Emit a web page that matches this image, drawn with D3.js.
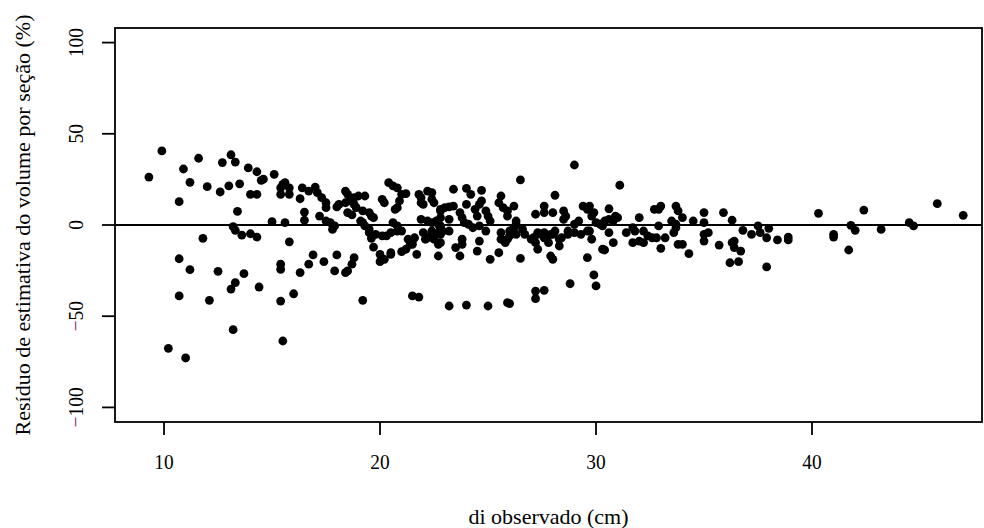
<!DOCTYPE html>
<html>
<head>
<meta charset="utf-8">
<script src="https://cdn.jsdelivr.net/npm/d3@7"></script>
<style>
  html, body { margin: 0; padding: 0; background: #fff; }
  svg text { font-family: "Liberation Serif", "DejaVu Serif", serif; fill: #000; }
</style>
</head>
<body>
<div id="chart"></div>
<script>
// diâmetro observado (cm) e resíduo (%)
const di = [
  9.3, 9.9, 11.6, 10.9, 11.2, 10.7, 12.0, 12.7, 13.1, 13.3, 12.6, 13.0, 13.5, 13.9, 14.3, 14.5,
  14.6, 15.1, 14.0, 14.3, 15.4, 15.4, 15.5, 13.4, 15.0, 15.6, 13.2, 13.3, 13.6, 14.0, 14.3, 11.8,
  10.7, 11.2, 12.5, 13.7, 13.3, 13.1, 14.4, 10.7, 12.1, 15.4, 15.4, 15.4, 13.2, 10.2, 11.0, 15.5,
  15.6, 15.8, 15.8, 16.3, 16.4, 16.7, 17.0, 17.1, 17.3, 17.5, 17.5, 16.5, 16.5, 15.8, 17.2, 17.5,
  17.7, 17.9, 17.8, 18.0, 18.1, 18.4, 18.5, 18.4, 18.6, 18.8, 19.0, 19.3, 18.5, 18.7, 18.8, 18.9,
  19.1, 19.2, 19.3, 19.5, 19.5, 19.6, 19.7, 19.2, 19.5, 19.6, 19.7, 20.1, 20.2, 20.4, 20.6, 20.8,
  21.0, 21.2, 20.9, 20.8, 20.7, 20.6, 20.8, 20.8, 21.0, 20.5, 20.3, 20.1, 19.8, 21.3, 21.5, 21.6,
  21.5, 21.8, 21.9, 21.9, 22.0, 22.2, 22.4, 22.4, 22.5, 21.9, 22.2, 22.4, 22.6, 22.8, 22.8, 22.7,
  22.8, 22.4, 22.2, 22.5, 22.8, 22.9,
  16.3, 16.7, 16.9, 17.4, 18.0, 17.9, 18.4, 18.5, 18.7, 18.8, 16.0, 19.2, 20.0, 20.2, 20.0, 20.5,
  20.5, 21.0, 21.2, 21.4, 21.7, 22.7, 22.8, 22.1, 22.0, 22.4, 22.7, 21.5, 21.8,
  29.0, 26.5, 23.4, 24.0, 24.2, 24.7, 22.8, 23.0, 23.2, 23.4, 23.2, 22.8, 23.2, 23.7, 23.8, 24.0,
  23.9, 24.1, 24.4, 24.6, 24.7, 24.5, 24.6, 24.3, 24.9, 25.0, 25.1, 24.9, 25.5, 25.6, 25.7, 25.9,
  26.2, 25.9, 26.3, 26.2, 26.0, 26.6, 26.7, 25.9, 25.8, 27.2, 27.6, 27.6, 28.1, 28.0, 28.1, 27.9,
  27.6, 27.3, 27.1, 27.2, 28.5, 28.6, 28.5, 28.3, 28.7, 29.0, 29.2, 29.4, 29.6, 29.7, 29.9, 29.8,
  29.6, 29.8, 30.0, 30.3,
  22.7, 22.8, 23.5, 23.7, 23.8, 23.8, 24.5, 24.6, 25.1, 25.5, 25.6, 25.6, 26.0, 26.3, 26.3, 26.5,
  27.0, 27.3, 27.3, 27.6, 27.8, 27.9, 28.0, 27.7, 28.0, 28.3, 28.4, 28.7, 29.0, 29.3, 29.6, 29.7,
  30.3, 29.9, 30.0, 28.8, 27.2, 27.6, 27.2, 25.9, 26.0, 23.2, 24.0, 25.0,
  31.1, 30.6, 30.2, 30.4, 30.6, 30.8, 30.9, 31.0, 30.6, 30.8, 30.4, 31.4, 31.7, 31.8, 32.0, 32.2,
  31.7, 32.0, 32.2, 32.4, 32.6, 32.8, 32.9, 32.9, 33.0, 32.7, 33.2, 33.0, 33.5, 33.7, 33.8, 34.0,
  33.7, 33.6, 33.7, 33.8, 34.0, 34.3, 34.5, 35.0, 35.0, 35.0, 35.2, 35.0, 35.7, 35.9, 36.3, 36.3,
  36.4, 36.4, 36.7, 36.2, 36.6, 36.8, 37.2, 37.5, 37.6, 38.0, 37.9, 37.9, 38.4, 38.9, 38.9,
  40.3, 41.0, 41.0, 41.7, 41.8, 42.0, 42.4, 43.2, 44.5, 44.7, 45.8, 47.0
];
const residuo = [
  26.3, 40.6, 36.6, 30.7, 23.4, 12.8, 21.0, 34.2, 38.5, 34.5, 18.1, 21.5, 22.6, 31.3, 29.2, 24.5,
  25.1, 27.8, 16.8, 16.8, 20.4, 16.8, 22.3, 7.5, 1.8, 1.3, -0.9, -2.9, -5.5, -4.8, -6.6, -7.3,
  -18.5, -24.5, -25.4, -26.7, -31.6, -35.1, -34.0, -38.9, -41.3, -41.7, -21.5, -24.3, -57.4, -67.6, -72.9, -63.6,
  23.2, 16.8, 20.4, 14.4, 20.4, 18.6, 20.8, 17.7, 15.0, 12.2, 9.5, 7.1, 2.6, -9.2, 4.9, 2.2,
  1.3, -0.5, -2.4, 9.9, 11.3, 18.6, 16.8, 12.2, 13.2, 15.0, 15.9, 15.9, 6.8, 5.5, 11.3, 9.5,
  2.2, 1.3, -0.5, -2.4, -4.2, -7.3, -12.1, 7.7, 6.8, 4.9, 4.0, 14.1, 12.2, 23.2, 21.4, 20.4,
  16.8, 17.2, 13.2, 9.5, 8.6, 1.3, -0.5, -3.3, -3.3, -4.2, -6.0, -6.0, -5.1, -7.8, -8.8, -7.0,
  -10.6, 16.8, 15.0, 12.2, 11.3, 18.6, 17.7, 14.1, 12.2, 3.1, 2.2, 1.3, 2.2, 4.0, 7.7, 0.4,
  -1.5, -3.3, -7.0, -7.8, -5.1, -3.3,
  -26.1, -21.5, -16.4, -20.1, -16.4, -25.2, -26.1, -25.2, -21.5, -17.9, -37.7, -41.3, -16.1, -18.8, -20.1, -15.2,
  -16.1, -14.6, -13.3, -10.6, -16.1, -17.0, -9.7, -7.8, -4.2, -4.2, -4.8, -38.9, -39.5,
  32.9, 24.7, 19.6, 20.1, 16.8, 19.0, 8.6, 9.5, 9.9, 10.4, 3.1, -2.4, -3.3, 6.8, 4.0, 11.3,
  1.3, 0.4, 8.6, 11.3, 13.2, 4.9, -0.5, -1.5, 7.7, 4.9, 2.2, -3.3, 12.2, 15.9, 9.5, 7.7,
  10.4, 4.9, 2.2, -1.5, -3.3, -2.4, -5.1, -7.8, -9.7, 5.9, 10.4, 6.8, 16.3, 6.8, -3.3, -5.1,
  -7.0, -4.2, -7.0, -9.7, 7.7, 4.9, 3.1, -7.8, -3.3, 0.4, 2.2, 10.4, 8.6, 10.4, 6.8, 4.9,
  -3.3, -7.8, 1.3, -0.5,
  -10.6, -0.5, -12.4, -17.0, -7.8, -10.6, -14.3, -8.8, -18.8, -15.2, -7.8, -4.2, -6.0, -5.1, 0.4, -18.3,
  -7.8, -13.3, -5.1, -4.2, -9.7, -17.0, -18.8, -7.0, -5.1, -11.5, -7.0, -5.1, -4.2, -5.1, -17.9, -3.3,
  -13.3, -27.4, -33.4, -32.2, -36.2, -35.8, -40.4, -42.6, -43.1, -44.4, -43.9, -44.4,
  21.8, 8.9, 0.4, 2.2, 3.1, 2.2, 4.9, 4.0, -4.2, -9.7, -13.7, -4.2, -1.5, -3.3, 4.0, -3.3,
  -9.7, -8.8, -9.7, -6.0, -7.0, -7.0, -0.5, 8.6, 10.4, 8.6, -7.0, -12.8, 2.2, 10.4, 7.7, 4.0,
  0.4, -4.2, -1.5, -10.6, -10.6, -15.7, 2.2, 6.8, 1.3, -5.1, -4.2, -8.8, -11.0, 6.8, 2.6, -9.7,
  -8.8, -12.4, -14.3, -20.7, -20.1, -2.9, -5.1, -0.5, -4.2, -1.8, -7.0, -23.0, -8.2, -6.6, -8.2,
  6.4, -5.1, -6.6, -13.7, -0.2, -2.9, 8.2, -2.4, 1.3, -0.5, 11.7, 5.3
];
const xTicks = [10, 20, 30, 40];
const yTicks = [-100, -50, 0, 50, 100];

const width = 984,
    height = 528;
const box = {left: 115, right: 982, top: 28, bottom: 422};

const svg = d3.select("#chart")
  .append("svg")
    .attr("width", width)
    .attr("height", height)
    .style("background", "#fff");

const x = d3.scaleLinear().domain([7.73, 47.87]).range([box.left, box.right]);
const y = d3.scaleLinear().domain([-108, 108]).range([box.bottom, box.top]);

const points = di.map((d, i) => ({di: d, r: residuo[i]}));

// pontos
svg.append("g")
  .selectAll("circle")
  .data(points)
  .join("circle")
    .attr("cx", d => x(d.di))
    .attr("cy", d => y(d.r))
    .attr("r", 4.4)
    .attr("fill", "#000");

// linha de referencia em zero
svg.append("line")
  .attr("x1", box.left).attr("x2", box.right)
  .attr("y1", y(0)).attr("y2", y(0))
  .attr("stroke", "#000")
  .attr("stroke-width", 1.8);

// caixa do grafico
svg.append("rect")
  .attr("x", box.left).attr("y", box.top)
  .attr("width", box.right - box.left)
  .attr("height", box.bottom - box.top)
  .attr("fill", "none")
  .attr("stroke", "#000")
  .attr("stroke-width", 1.8);

// eixo x
const xAxis = svg.append("g").attr("transform", `translate(0,${box.bottom})`);
xAxis.selectAll("line")
  .data(xTicks)
  .join("line")
    .attr("x1", d => x(d)).attr("x2", d => x(d))
    .attr("y1", 0).attr("y2", 13)
    .attr("stroke", "#000")
    .attr("stroke-width", 1.8);
xAxis.selectAll("text")
  .data(xTicks)
  .join("text")
    .attr("transform", d => `translate(${x(d)},47) scale(0.88,1)`)
    .attr("text-anchor", "middle")
    .attr("font-size", 22)
    .text(d => d);

// eixo y
const yAxis = svg.append("g").attr("transform", `translate(${box.left},0)`);
yAxis.selectAll("line")
  .data(yTicks)
  .join("line")
    .attr("x1", -13).attr("x2", 0)
    .attr("y1", d => y(d)).attr("y2", d => y(d))
    .attr("stroke", "#000")
    .attr("stroke-width", 1.8);
const yLab = yAxis.selectAll("text")
  .data(yTicks)
  .join("text")
    .attr("transform", d => `translate(-32,${y(d)}) rotate(-90) scale(0.88,1)`)
    .attr("text-anchor", "middle")
    .attr("font-size", 22);
yLab.filter(d => d < 0).append("tspan").attr("fill", "#9b2d74").text("\u2212");
yLab.append("tspan").text(d => Math.abs(d));

// titulos
svg.append("text")
  .attr("x", (box.left + box.right) / 2)
  .attr("y", 524)
  .attr("text-anchor", "middle")
  .attr("font-size", 22)
  .text("di observado (cm)");

svg.append("text")
  .attr("transform", `translate(30,${(box.top + box.bottom) / 2}) rotate(-90)`)
  .attr("text-anchor", "middle")
  .attr("font-size", 22)
  .text("Resíduo de estimativa do volume por seção (%)");
</script>
</body>
</html>
